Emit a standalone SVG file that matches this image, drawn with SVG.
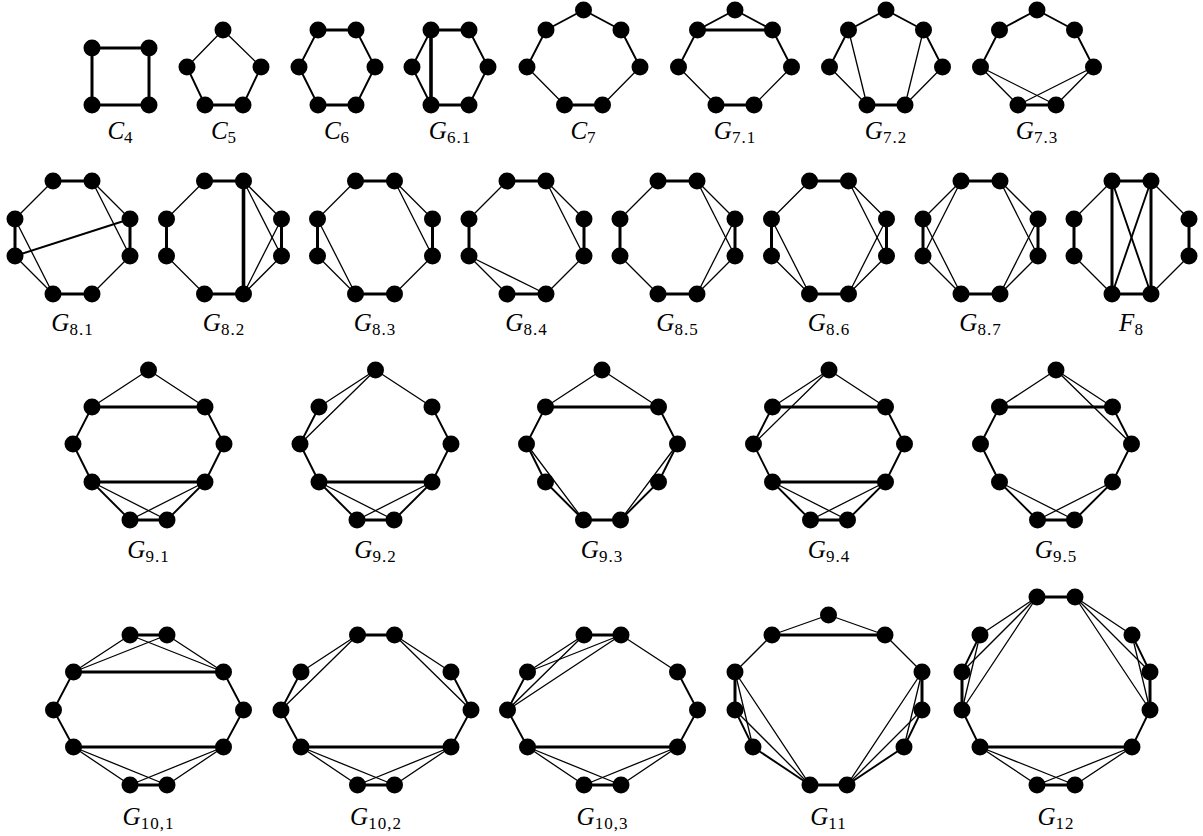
<svg xmlns="http://www.w3.org/2000/svg" width="1203" height="836" viewBox="0 0 1203 836">
<style>
line{stroke:#000;stroke-linecap:round}
.k{stroke-width:3}
.kk{stroke-width:3.6}
.m{stroke-width:1.9}
.t{stroke-width:1.3}
circle{fill:#000}
text{font-family:"Liberation Serif","Times New Roman",serif;font-size:25px;fill:#000;text-anchor:middle}
.v{font-style:italic}
.s{font-size:17px;letter-spacing:1px}
</style>
<rect width="1203" height="836" fill="#fff"/>

<!-- Row 1 -->
<g id="C4">
<g class="edges">
<line class="k" x1="92" y1="48" x2="149" y2="48"/><line class="k" x1="149" y1="48" x2="149" y2="105"/><line class="k" x1="149" y1="105" x2="92" y2="105"/><line class="k" x1="92" y1="105" x2="92" y2="48"/>
</g>
<circle id="C4-1" cx="92" cy="48" r="8.5"/><circle id="C4-2" cx="149" cy="48" r="8.5"/><circle id="C4-3" cx="92" cy="105" r="8.5"/><circle id="C4-4" cx="149" cy="105" r="8.5"/>
<text x="120.5" y="139"><tspan class="v">C</tspan><tspan class="s" dy="4">4</tspan></text>
</g>

<g id="C5">
<g class="edges">
<line class="t" x1="223" y1="30" x2="187" y2="67"/><line class="t" x1="223" y1="30" x2="261" y2="67"/><line class="m" x1="187" y1="67" x2="205" y2="105"/><line class="m" x1="261" y1="67" x2="243" y2="105"/><line class="k" x1="205" y1="105" x2="243" y2="105"/>
</g>
<circle id="C5-1" cx="223" cy="30" r="8.5"/><circle id="C5-2" cx="187" cy="67" r="8.5"/><circle id="C5-3" cx="261" cy="67" r="8.5"/><circle id="C5-4" cx="205" cy="105" r="8.5"/><circle id="C5-5" cx="243" cy="105" r="8.5"/>
<text x="224" y="139"><tspan class="v">C</tspan><tspan class="s" dy="4">5</tspan></text>
</g>

<g id="C6">
<g class="edges">
<line class="k" x1="318" y1="30" x2="356" y2="30"/><line class="m" x1="318" y1="30" x2="299" y2="67"/><line class="m" x1="299" y1="67" x2="318" y2="105"/><line class="k" x1="318" y1="105" x2="356" y2="105"/><line class="m" x1="356" y1="105" x2="375" y2="67"/><line class="m" x1="375" y1="67" x2="356" y2="30"/>
</g>
<circle id="C6-1" cx="318" cy="30" r="8.5"/><circle id="C6-2" cx="356" cy="30" r="8.5"/><circle id="C6-3" cx="299" cy="67" r="8.5"/><circle id="C6-4" cx="375" cy="67" r="8.5"/><circle id="C6-5" cx="318" cy="105" r="8.5"/><circle id="C6-6" cx="356" cy="105" r="8.5"/>
<text x="337" y="139"><tspan class="v">C</tspan><tspan class="s" dy="4">6</tspan></text>
</g>

<g id="G6-1">
<g class="edges">
<line class="k" x1="431" y1="30" x2="469" y2="30"/><line class="m" x1="431" y1="30" x2="412" y2="67"/><line class="m" x1="412" y1="67" x2="431" y2="105"/><line class="k" x1="431" y1="105" x2="469" y2="105"/><line class="m" x1="469" y1="105" x2="488" y2="67"/><line class="m" x1="488" y1="67" x2="469" y2="30"/><line class="kk" x1="431" y1="30" x2="431" y2="105"/>
</g>
<circle id="G61-1" cx="431" cy="30" r="8.5"/><circle id="G61-2" cx="469" cy="30" r="8.5"/><circle id="G61-3" cx="412" cy="67" r="8.5"/><circle id="G61-4" cx="488" cy="67" r="8.5"/><circle id="G61-5" cx="431" cy="105" r="8.5"/><circle id="G61-6" cx="469" cy="105" r="8.5"/>
<text x="450" y="139"><tspan class="v">G</tspan><tspan class="s" dy="4">6.1</tspan></text>
</g>

<g id="C7">
<g class="edges">
<line class="m" x1="583.5" y1="10" x2="546" y2="30"/><line class="m" x1="583.5" y1="10" x2="621" y2="30"/><line class="m" x1="546" y1="30" x2="527" y2="67"/><line class="m" x1="621" y1="30" x2="640" y2="67"/><line class="t" x1="527" y1="67" x2="564.5" y2="105"/><line class="t" x1="640" y1="67" x2="602.5" y2="105"/><line class="k" x1="564.5" y1="105" x2="602.5" y2="105"/>
</g>
<circle id="C7-1" cx="583.5" cy="10" r="8.5"/><circle id="C7-2" cx="546" cy="30" r="8.5"/><circle id="C7-3" cx="621" cy="30" r="8.5"/><circle id="C7-4" cx="527" cy="67" r="8.5"/><circle id="C7-5" cx="640" cy="67" r="8.5"/><circle id="C7-6" cx="564.5" cy="105" r="8.5"/><circle id="C7-7" cx="602.5" cy="105" r="8.5"/>
<text x="583.5" y="139"><tspan class="v">C</tspan><tspan class="s" dy="4">7</tspan></text>
</g>

<g id="G7-1">
<g class="edges">
<line class="m" x1="735" y1="10" x2="697.5" y2="30"/><line class="m" x1="735" y1="10" x2="772.5" y2="30"/><line class="m" x1="697.5" y1="30" x2="678.5" y2="67"/><line class="m" x1="772.5" y1="30" x2="791.5" y2="67"/><line class="t" x1="678.5" y1="67" x2="716" y2="105"/><line class="t" x1="791.5" y1="67" x2="754" y2="105"/><line class="k" x1="716" y1="105" x2="754" y2="105"/><line class="k" x1="697.5" y1="30" x2="772.5" y2="30"/>
</g>
<circle id="G71-1" cx="735" cy="10" r="8.5"/><circle id="G71-2" cx="697.5" cy="30" r="8.5"/><circle id="G71-3" cx="772.5" cy="30" r="8.5"/><circle id="G71-4" cx="678.5" cy="67" r="8.5"/><circle id="G71-5" cx="791.5" cy="67" r="8.5"/><circle id="G71-6" cx="716" cy="105" r="8.5"/><circle id="G71-7" cx="754" cy="105" r="8.5"/>
<text x="735" y="139"><tspan class="v">G</tspan><tspan class="s" dy="4">7.1</tspan></text>
</g>

<g id="G7-2">
<g class="edges">
<line class="m" x1="886" y1="10" x2="848.5" y2="30"/><line class="m" x1="886" y1="10" x2="923.5" y2="30"/><line class="m" x1="848.5" y1="30" x2="829.5" y2="67"/><line class="m" x1="923.5" y1="30" x2="942.5" y2="67"/><line class="t" x1="829.5" y1="67" x2="867" y2="105"/><line class="t" x1="942.5" y1="67" x2="905" y2="105"/><line class="k" x1="867" y1="105" x2="905" y2="105"/><line class="t" x1="848.5" y1="30" x2="867" y2="105"/><line class="t" x1="923.5" y1="30" x2="905" y2="105"/>
</g>
<circle id="G72-1" cx="886" cy="10" r="8.5"/><circle id="G72-2" cx="848.5" cy="30" r="8.5"/><circle id="G72-3" cx="923.5" cy="30" r="8.5"/><circle id="G72-4" cx="829.5" cy="67" r="8.5"/><circle id="G72-5" cx="942.5" cy="67" r="8.5"/><circle id="G72-6" cx="867" cy="105" r="8.5"/><circle id="G72-7" cx="905" cy="105" r="8.5"/>
<text x="886" y="139"><tspan class="v">G</tspan><tspan class="s" dy="4">7.2</tspan></text>
</g>

<g id="G7-3">
<g class="edges">
<line class="m" x1="1037" y1="10" x2="999.5" y2="30"/><line class="m" x1="1037" y1="10" x2="1074.5" y2="30"/><line class="m" x1="999.5" y1="30" x2="980.5" y2="67"/><line class="m" x1="1074.5" y1="30" x2="1093.5" y2="67"/><line class="t" x1="980.5" y1="67" x2="1018" y2="105"/><line class="t" x1="1093.5" y1="67" x2="1056" y2="105"/><line class="k" x1="1018" y1="105" x2="1056" y2="105"/><line class="t" x1="980.5" y1="67" x2="1056" y2="105"/><line class="t" x1="1093.5" y1="67" x2="1018" y2="105"/>
</g>
<circle id="G73-1" cx="1037" cy="10" r="8.5"/><circle id="G73-2" cx="999.5" cy="30" r="8.5"/><circle id="G73-3" cx="1074.5" cy="30" r="8.5"/><circle id="G73-4" cx="980.5" cy="67" r="8.5"/><circle id="G73-5" cx="1093.5" cy="67" r="8.5"/><circle id="G73-6" cx="1018" cy="105" r="8.5"/><circle id="G73-7" cx="1056" cy="105" r="8.5"/>
<text x="1037" y="139"><tspan class="v">G</tspan><tspan class="s" dy="4">7.3</tspan></text>
</g>

<!-- Row 2: octagons a(c-19.5,181) b(c+19.5,181) c(c+57.5,219) d(c+57.5,256) e(c+19.5,294) f(c-19.5,294) g(c-57.5,256) h(c-57.5,219) -->
<g id="G8-1">
<g class="edges">
<line class="k" x1="53" y1="181" x2="92" y2="181"/><line class="t" x1="92" y1="181" x2="130" y2="219"/><line class="k" x1="130" y1="219" x2="130" y2="256"/><line class="t" x1="130" y1="256" x2="92" y2="294"/><line class="k" x1="92" y1="294" x2="53" y2="294"/><line class="t" x1="53" y1="294" x2="15" y2="256"/><line class="k" x1="15" y1="256" x2="15" y2="219"/><line class="t" x1="15" y1="219" x2="53" y2="181"/>
<line class="t" x1="15" y1="219" x2="53" y2="294"/><line class="m" x1="15" y1="256" x2="130" y2="219"/><line class="t" x1="92" y1="181" x2="130" y2="256"/>
</g>
<circle id="G81-a" cx="53" cy="181" r="8.5"/><circle id="G81-b" cx="92" cy="181" r="8.5"/><circle id="G81-c" cx="130" cy="219" r="8.5"/><circle id="G81-d" cx="130" cy="256" r="8.5"/><circle id="G81-e" cx="92" cy="294" r="8.5"/><circle id="G81-f" cx="53" cy="294" r="8.5"/><circle id="G81-g" cx="15" cy="256" r="8.5"/><circle id="G81-h" cx="15" cy="219" r="8.5"/>
<text x="72.5" y="331"><tspan class="v">G</tspan><tspan class="s" dy="4">8.1</tspan></text>
</g>

<g id="G8-2">
<g class="edges">
<line class="k" x1="204.5" y1="181" x2="243.5" y2="181"/><line class="t" x1="243.5" y1="181" x2="281.5" y2="219"/><line class="k" x1="281.5" y1="219" x2="281.5" y2="256"/><line class="t" x1="281.5" y1="256" x2="243.5" y2="294"/><line class="k" x1="243.5" y1="294" x2="204.5" y2="294"/><line class="t" x1="204.5" y1="294" x2="166.5" y2="256"/><line class="k" x1="166.5" y1="256" x2="166.5" y2="219"/><line class="t" x1="166.5" y1="219" x2="204.5" y2="181"/>
<line class="kk" x1="243.5" y1="181" x2="243.5" y2="294"/><line class="t" x1="243.5" y1="181" x2="281.5" y2="256"/><line class="t" x1="243.5" y1="294" x2="281.5" y2="219"/>
</g>
<circle id="G82-a" cx="204.5" cy="181" r="8.5"/><circle id="G82-b" cx="243.5" cy="181" r="8.5"/><circle id="G82-c" cx="281.5" cy="219" r="8.5"/><circle id="G82-d" cx="281.5" cy="256" r="8.5"/><circle id="G82-e" cx="243.5" cy="294" r="8.5"/><circle id="G82-f" cx="204.5" cy="294" r="8.5"/><circle id="G82-g" cx="166.5" cy="256" r="8.5"/><circle id="G82-h" cx="166.5" cy="219" r="8.5"/>
<text x="224" y="331"><tspan class="v">G</tspan><tspan class="s" dy="4">8.2</tspan></text>
</g>

<g id="G8-3">
<g class="edges">
<line class="k" x1="355.5" y1="181" x2="394.5" y2="181"/><line class="t" x1="394.5" y1="181" x2="432.5" y2="219"/><line class="k" x1="432.5" y1="219" x2="432.5" y2="256"/><line class="t" x1="432.5" y1="256" x2="394.5" y2="294"/><line class="k" x1="394.5" y1="294" x2="355.5" y2="294"/><line class="t" x1="355.5" y1="294" x2="317.5" y2="256"/><line class="k" x1="317.5" y1="256" x2="317.5" y2="219"/><line class="t" x1="317.5" y1="219" x2="355.5" y2="181"/>
<line class="t" x1="317.5" y1="219" x2="355.5" y2="294"/><line class="t" x1="394.5" y1="181" x2="432.5" y2="256"/>
</g>
<circle id="G83-a" cx="355.5" cy="181" r="8.5"/><circle id="G83-b" cx="394.5" cy="181" r="8.5"/><circle id="G83-c" cx="432.5" cy="219" r="8.5"/><circle id="G83-d" cx="432.5" cy="256" r="8.5"/><circle id="G83-e" cx="394.5" cy="294" r="8.5"/><circle id="G83-f" cx="355.5" cy="294" r="8.5"/><circle id="G83-g" cx="317.5" cy="256" r="8.5"/><circle id="G83-h" cx="317.5" cy="219" r="8.5"/>
<text x="375" y="331"><tspan class="v">G</tspan><tspan class="s" dy="4">8.3</tspan></text>
</g>

<g id="G8-4">
<g class="edges">
<line class="k" x1="507" y1="181" x2="546" y2="181"/><line class="t" x1="546" y1="181" x2="584" y2="219"/><line class="k" x1="584" y1="219" x2="584" y2="256"/><line class="t" x1="584" y1="256" x2="546" y2="294"/><line class="k" x1="546" y1="294" x2="507" y2="294"/><line class="t" x1="507" y1="294" x2="469" y2="256"/><line class="k" x1="469" y1="256" x2="469" y2="219"/><line class="t" x1="469" y1="219" x2="507" y2="181"/>
<line class="t" x1="546" y1="181" x2="584" y2="256"/><line class="t" x1="469" y1="256" x2="546" y2="294"/>
</g>
<circle id="G84-a" cx="507" cy="181" r="8.5"/><circle id="G84-b" cx="546" cy="181" r="8.5"/><circle id="G84-c" cx="584" cy="219" r="8.5"/><circle id="G84-d" cx="584" cy="256" r="8.5"/><circle id="G84-e" cx="546" cy="294" r="8.5"/><circle id="G84-f" cx="507" cy="294" r="8.5"/><circle id="G84-g" cx="469" cy="256" r="8.5"/><circle id="G84-h" cx="469" cy="219" r="8.5"/>
<text x="526.5" y="331"><tspan class="v">G</tspan><tspan class="s" dy="4">8.4</tspan></text>
</g>

<g id="G8-5">
<g class="edges">
<line class="k" x1="658" y1="181" x2="697" y2="181"/><line class="t" x1="697" y1="181" x2="735" y2="219"/><line class="k" x1="735" y1="219" x2="735" y2="256"/><line class="t" x1="735" y1="256" x2="697" y2="294"/><line class="k" x1="697" y1="294" x2="658" y2="294"/><line class="t" x1="658" y1="294" x2="620" y2="256"/><line class="k" x1="620" y1="256" x2="620" y2="219"/><line class="t" x1="620" y1="219" x2="658" y2="181"/>
<line class="t" x1="697" y1="181" x2="735" y2="256"/><line class="t" x1="697" y1="294" x2="735" y2="219"/>
</g>
<circle id="G85-a" cx="658" cy="181" r="8.5"/><circle id="G85-b" cx="697" cy="181" r="8.5"/><circle id="G85-c" cx="735" cy="219" r="8.5"/><circle id="G85-d" cx="735" cy="256" r="8.5"/><circle id="G85-e" cx="697" cy="294" r="8.5"/><circle id="G85-f" cx="658" cy="294" r="8.5"/><circle id="G85-g" cx="620" cy="256" r="8.5"/><circle id="G85-h" cx="620" cy="219" r="8.5"/>
<text x="677.5" y="331"><tspan class="v">G</tspan><tspan class="s" dy="4">8.5</tspan></text>
</g>

<g id="G8-6">
<g class="edges">
<line class="k" x1="809.5" y1="181" x2="848.5" y2="181"/><line class="t" x1="848.5" y1="181" x2="886.5" y2="219"/><line class="k" x1="886.5" y1="219" x2="886.5" y2="256"/><line class="t" x1="886.5" y1="256" x2="848.5" y2="294"/><line class="k" x1="848.5" y1="294" x2="809.5" y2="294"/><line class="t" x1="809.5" y1="294" x2="771.5" y2="256"/><line class="k" x1="771.5" y1="256" x2="771.5" y2="219"/><line class="t" x1="771.5" y1="219" x2="809.5" y2="181"/>
<line class="t" x1="771.5" y1="219" x2="809.5" y2="294"/><line class="t" x1="848.5" y1="181" x2="886.5" y2="256"/><line class="t" x1="848.5" y1="294" x2="886.5" y2="219"/>
</g>
<circle id="G86-a" cx="809.5" cy="181" r="8.5"/><circle id="G86-b" cx="848.5" cy="181" r="8.5"/><circle id="G86-c" cx="886.5" cy="219" r="8.5"/><circle id="G86-d" cx="886.5" cy="256" r="8.5"/><circle id="G86-e" cx="848.5" cy="294" r="8.5"/><circle id="G86-f" cx="809.5" cy="294" r="8.5"/><circle id="G86-g" cx="771.5" cy="256" r="8.5"/><circle id="G86-h" cx="771.5" cy="219" r="8.5"/>
<text x="829" y="331"><tspan class="v">G</tspan><tspan class="s" dy="4">8.6</tspan></text>
</g>

<g id="G8-7">
<g class="edges">
<line class="k" x1="961" y1="181" x2="1000" y2="181"/><line class="t" x1="1000" y1="181" x2="1038" y2="219"/><line class="k" x1="1038" y1="219" x2="1038" y2="256"/><line class="t" x1="1038" y1="256" x2="1000" y2="294"/><line class="k" x1="1000" y1="294" x2="961" y2="294"/><line class="t" x1="961" y1="294" x2="923" y2="256"/><line class="k" x1="923" y1="256" x2="923" y2="219"/><line class="t" x1="923" y1="219" x2="961" y2="181"/>
<line class="t" x1="961" y1="181" x2="923" y2="256"/><line class="t" x1="923" y1="219" x2="961" y2="294"/><line class="t" x1="1000" y1="181" x2="1038" y2="256"/><line class="t" x1="1000" y1="294" x2="1038" y2="219"/>
</g>
<circle id="G87-a" cx="961" cy="181" r="8.5"/><circle id="G87-b" cx="1000" cy="181" r="8.5"/><circle id="G87-c" cx="1038" cy="219" r="8.5"/><circle id="G87-d" cx="1038" cy="256" r="8.5"/><circle id="G87-e" cx="1000" cy="294" r="8.5"/><circle id="G87-f" cx="961" cy="294" r="8.5"/><circle id="G87-g" cx="923" cy="256" r="8.5"/><circle id="G87-h" cx="923" cy="219" r="8.5"/>
<text x="980.5" y="331"><tspan class="v">G</tspan><tspan class="s" dy="4">8.7</tspan></text>
</g>

<g id="F8">
<g class="edges">
<line class="k" x1="1112" y1="181" x2="1151" y2="181"/><line class="t" x1="1151" y1="181" x2="1189" y2="219"/><line class="k" x1="1189" y1="219" x2="1189" y2="256"/><line class="t" x1="1189" y1="256" x2="1151" y2="294"/><line class="k" x1="1151" y1="294" x2="1112" y2="294"/><line class="t" x1="1112" y1="294" x2="1074" y2="256"/><line class="k" x1="1074" y1="256" x2="1074" y2="219"/><line class="t" x1="1074" y1="219" x2="1112" y2="181"/>
<line class="k" x1="1112" y1="181" x2="1112" y2="294"/><line class="k" x1="1151" y1="181" x2="1151" y2="294"/><line class="m" x1="1112" y1="181" x2="1151" y2="294"/><line class="m" x1="1151" y1="181" x2="1112" y2="294"/>
</g>
<circle id="F8-a" cx="1112" cy="181" r="8.5"/><circle id="F8-b" cx="1151" cy="181" r="8.5"/><circle id="F8-c" cx="1189" cy="219" r="8.5"/><circle id="F8-d" cx="1189" cy="256" r="8.5"/><circle id="F8-e" cx="1151" cy="294" r="8.5"/><circle id="F8-f" cx="1112" cy="294" r="8.5"/><circle id="F8-g" cx="1074" cy="256" r="8.5"/><circle id="F8-h" cx="1074" cy="219" r="8.5"/>
<text x="1131.5" y="331"><tspan class="v">F</tspan><tspan class="s" dy="4">8</tspan></text>
</g>

<!-- Row 3 -->
<g id="G9-1">
<g class="edges">
<line class="t" x1="148.5" y1="370" x2="92" y2="407"/><line class="t" x1="148.5" y1="370" x2="205" y2="407"/><line class="m" x1="92" y1="407" x2="73" y2="444"/><line class="m" x1="73" y1="444" x2="92" y2="482"/><line class="m" x1="205" y1="407" x2="224" y2="444"/><line class="m" x1="224" y1="444" x2="205" y2="482"/><line class="m" x1="92" y1="482" x2="130" y2="520"/><line class="m" x1="205" y1="482" x2="167" y2="520"/><line class="k" x1="130" y1="520" x2="167" y2="520"/>
<line class="k" x1="92" y1="407" x2="205" y2="407"/><line class="k" x1="92" y1="482" x2="205" y2="482"/><line class="t" x1="92" y1="482" x2="167" y2="520"/><line class="t" x1="205" y1="482" x2="130" y2="520"/>
</g>
<circle id="G91-1" cx="148.5" cy="370" r="8.5"/><circle id="G91-2" cx="92" cy="407" r="8.5"/><circle id="G91-3" cx="205" cy="407" r="8.5"/><circle id="G91-4" cx="73" cy="444" r="8.5"/><circle id="G91-5" cx="224" cy="444" r="8.5"/><circle id="G91-6" cx="92" cy="482" r="8.5"/><circle id="G91-7" cx="205" cy="482" r="8.5"/><circle id="G91-8" cx="130" cy="520" r="8.5"/><circle id="G91-9" cx="167" cy="520" r="8.5"/>
<text x="148.5" y="558"><tspan class="v">G</tspan><tspan class="s" dy="4">9.1</tspan></text>
</g>

<g id="G9-2">
<g class="edges">
<line class="t" x1="375.5" y1="370" x2="319" y2="407"/><line class="t" x1="375.5" y1="370" x2="432" y2="407"/><line class="m" x1="319" y1="407" x2="300" y2="444"/><line class="m" x1="300" y1="444" x2="319" y2="482"/><line class="m" x1="432" y1="407" x2="451" y2="444"/><line class="m" x1="451" y1="444" x2="432" y2="482"/><line class="m" x1="319" y1="482" x2="357" y2="520"/><line class="m" x1="432" y1="482" x2="394" y2="520"/><line class="k" x1="357" y1="520" x2="394" y2="520"/>
<line class="t" x1="375.5" y1="370" x2="300" y2="444"/><line class="k" x1="319" y1="482" x2="432" y2="482"/><line class="t" x1="319" y1="482" x2="394" y2="520"/><line class="t" x1="432" y1="482" x2="357" y2="520"/>
</g>
<circle id="G92-1" cx="375.5" cy="370" r="8.5"/><circle id="G92-2" cx="319" cy="407" r="8.5"/><circle id="G92-3" cx="432" cy="407" r="8.5"/><circle id="G92-4" cx="300" cy="444" r="8.5"/><circle id="G92-5" cx="451" cy="444" r="8.5"/><circle id="G92-6" cx="319" cy="482" r="8.5"/><circle id="G92-7" cx="432" cy="482" r="8.5"/><circle id="G92-8" cx="357" cy="520" r="8.5"/><circle id="G92-9" cx="394" cy="520" r="8.5"/>
<text x="375.5" y="558"><tspan class="v">G</tspan><tspan class="s" dy="4">9.2</tspan></text>
</g>

<g id="G9-3">
<g class="edges">
<line class="t" x1="602" y1="370" x2="545.5" y2="407"/><line class="t" x1="602" y1="370" x2="658.5" y2="407"/><line class="m" x1="545.5" y1="407" x2="526.5" y2="444"/><line class="m" x1="526.5" y1="444" x2="545.5" y2="482"/><line class="m" x1="658.5" y1="407" x2="677.5" y2="444"/><line class="m" x1="677.5" y1="444" x2="658.5" y2="482"/><line class="m" x1="545.5" y1="482" x2="583.5" y2="520"/><line class="m" x1="658.5" y1="482" x2="620.5" y2="520"/><line class="k" x1="583.5" y1="520" x2="620.5" y2="520"/>
<line class="k" x1="545.5" y1="407" x2="658.5" y2="407"/><line class="t" x1="526.5" y1="444" x2="583.5" y2="520"/><line class="t" x1="677.5" y1="444" x2="620.5" y2="520"/>
</g>
<circle id="G93-1" cx="602" cy="370" r="8.5"/><circle id="G93-2" cx="545.5" cy="407" r="8.5"/><circle id="G93-3" cx="658.5" cy="407" r="8.5"/><circle id="G93-4" cx="526.5" cy="444" r="8.5"/><circle id="G93-5" cx="677.5" cy="444" r="8.5"/><circle id="G93-6" cx="545.5" cy="482" r="8.5"/><circle id="G93-7" cx="658.5" cy="482" r="8.5"/><circle id="G93-8" cx="583.5" cy="520" r="8.5"/><circle id="G93-9" cx="620.5" cy="520" r="8.5"/>
<text x="602" y="558"><tspan class="v">G</tspan><tspan class="s" dy="4">9.3</tspan></text>
</g>

<g id="G9-4">
<g class="edges">
<line class="t" x1="829" y1="370" x2="772.5" y2="407"/><line class="t" x1="829" y1="370" x2="885.5" y2="407"/><line class="m" x1="772.5" y1="407" x2="753.5" y2="444"/><line class="m" x1="753.5" y1="444" x2="772.5" y2="482"/><line class="m" x1="885.5" y1="407" x2="904.5" y2="444"/><line class="m" x1="904.5" y1="444" x2="885.5" y2="482"/><line class="m" x1="772.5" y1="482" x2="810.5" y2="520"/><line class="m" x1="885.5" y1="482" x2="847.5" y2="520"/><line class="k" x1="810.5" y1="520" x2="847.5" y2="520"/>
<line class="t" x1="829" y1="370" x2="753.5" y2="444"/><line class="k" x1="772.5" y1="407" x2="885.5" y2="407"/><line class="k" x1="772.5" y1="482" x2="885.5" y2="482"/><line class="t" x1="772.5" y1="482" x2="847.5" y2="520"/><line class="t" x1="885.5" y1="482" x2="810.5" y2="520"/>
</g>
<circle id="G94-1" cx="829" cy="370" r="8.5"/><circle id="G94-2" cx="772.5" cy="407" r="8.5"/><circle id="G94-3" cx="885.5" cy="407" r="8.5"/><circle id="G94-4" cx="753.5" cy="444" r="8.5"/><circle id="G94-5" cx="904.5" cy="444" r="8.5"/><circle id="G94-6" cx="772.5" cy="482" r="8.5"/><circle id="G94-7" cx="885.5" cy="482" r="8.5"/><circle id="G94-8" cx="810.5" cy="520" r="8.5"/><circle id="G94-9" cx="847.5" cy="520" r="8.5"/>
<text x="829" y="558"><tspan class="v">G</tspan><tspan class="s" dy="4">9.4</tspan></text>
</g>

<g id="G9-5">
<g class="edges">
<line class="t" x1="1056" y1="370" x2="999.5" y2="407"/><line class="t" x1="1056" y1="370" x2="1112.5" y2="407"/><line class="m" x1="999.5" y1="407" x2="980.5" y2="444"/><line class="m" x1="980.5" y1="444" x2="999.5" y2="482"/><line class="m" x1="1112.5" y1="407" x2="1131.5" y2="444"/><line class="m" x1="1131.5" y1="444" x2="1112.5" y2="482"/><line class="m" x1="999.5" y1="482" x2="1037.5" y2="520"/><line class="m" x1="1112.5" y1="482" x2="1074.5" y2="520"/><line class="k" x1="1037.5" y1="520" x2="1074.5" y2="520"/>
<line class="k" x1="999.5" y1="407" x2="1112.5" y2="407"/><line class="t" x1="1056" y1="370" x2="1131.5" y2="444"/><line class="t" x1="999.5" y1="482" x2="1074.5" y2="520"/><line class="t" x1="1112.5" y1="482" x2="1037.5" y2="520"/>
</g>
<circle id="G95-1" cx="1056" cy="370" r="8.5"/><circle id="G95-2" cx="999.5" cy="407" r="8.5"/><circle id="G95-3" cx="1112.5" cy="407" r="8.5"/><circle id="G95-4" cx="980.5" cy="444" r="8.5"/><circle id="G95-5" cx="1131.5" cy="444" r="8.5"/><circle id="G95-6" cx="999.5" cy="482" r="8.5"/><circle id="G95-7" cx="1112.5" cy="482" r="8.5"/><circle id="G95-8" cx="1037.5" cy="520" r="8.5"/><circle id="G95-9" cx="1074.5" cy="520" r="8.5"/>
<text x="1056" y="558"><tspan class="v">G</tspan><tspan class="s" dy="4">9.5</tspan></text>
</g>

<!-- Row 4 -->
<g id="G10-1">
<g class="edges">
<line class="k" x1="130" y1="635" x2="167" y2="635"/><line class="t" x1="130" y1="635" x2="73.5" y2="672"/><line class="t" x1="167" y1="635" x2="223.5" y2="672"/><line class="m" x1="73.5" y1="672" x2="53.5" y2="710"/><line class="m" x1="53.5" y1="710" x2="73.5" y2="747"/><line class="m" x1="223.5" y1="672" x2="243.5" y2="710"/><line class="m" x1="243.5" y1="710" x2="223.5" y2="747"/><line class="t" x1="73.5" y1="747" x2="130" y2="785"/><line class="t" x1="223.5" y1="747" x2="167" y2="785"/><line class="k" x1="130" y1="785" x2="167" y2="785"/>
<line class="k" x1="73.5" y1="672" x2="223.5" y2="672"/><line class="k" x1="73.5" y1="747" x2="223.5" y2="747"/><line class="t" x1="73.5" y1="672" x2="167" y2="635"/><line class="t" x1="223.5" y1="672" x2="130" y2="635"/><line class="t" x1="73.5" y1="747" x2="167" y2="785"/><line class="t" x1="223.5" y1="747" x2="130" y2="785"/>
</g>
<circle id="G101-1" cx="130" cy="635" r="8.5"/><circle id="G101-2" cx="167" cy="635" r="8.5"/><circle id="G101-3" cx="73.5" cy="672" r="8.5"/><circle id="G101-4" cx="223.5" cy="672" r="8.5"/><circle id="G101-5" cx="53.5" cy="710" r="8.5"/><circle id="G101-6" cx="243.5" cy="710" r="8.5"/><circle id="G101-7" cx="73.5" cy="747" r="8.5"/><circle id="G101-8" cx="223.5" cy="747" r="8.5"/><circle id="G101-9" cx="130" cy="785" r="8.5"/><circle id="G101-10" cx="167" cy="785" r="8.5"/>
<text x="148.5" y="825"><tspan class="v">G</tspan><tspan class="s" dy="4">10,1</tspan></text>
</g>

<g id="G10-2">
<g class="edges">
<line class="k" x1="357.5" y1="635" x2="394.5" y2="635"/><line class="t" x1="357.5" y1="635" x2="301" y2="672"/><line class="t" x1="394.5" y1="635" x2="451" y2="672"/><line class="m" x1="301" y1="672" x2="281" y2="710"/><line class="m" x1="281" y1="710" x2="301" y2="747"/><line class="m" x1="451" y1="672" x2="471" y2="710"/><line class="m" x1="471" y1="710" x2="451" y2="747"/><line class="t" x1="301" y1="747" x2="357.5" y2="785"/><line class="t" x1="451" y1="747" x2="394.5" y2="785"/><line class="k" x1="357.5" y1="785" x2="394.5" y2="785"/>
<line class="t" x1="357.5" y1="635" x2="281" y2="710"/><line class="t" x1="394.5" y1="635" x2="471" y2="710"/><line class="k" x1="301" y1="747" x2="451" y2="747"/><line class="t" x1="301" y1="747" x2="394.5" y2="785"/><line class="t" x1="451" y1="747" x2="357.5" y2="785"/>
</g>
<circle id="G102-1" cx="357.5" cy="635" r="8.5"/><circle id="G102-2" cx="394.5" cy="635" r="8.5"/><circle id="G102-3" cx="301" cy="672" r="8.5"/><circle id="G102-4" cx="451" cy="672" r="8.5"/><circle id="G102-5" cx="281" cy="710" r="8.5"/><circle id="G102-6" cx="471" cy="710" r="8.5"/><circle id="G102-7" cx="301" cy="747" r="8.5"/><circle id="G102-8" cx="451" cy="747" r="8.5"/><circle id="G102-9" cx="357.5" cy="785" r="8.5"/><circle id="G102-10" cx="394.5" cy="785" r="8.5"/>
<text x="376" y="825"><tspan class="v">G</tspan><tspan class="s" dy="4">10,2</tspan></text>
</g>

<g id="G10-3">
<g class="edges">
<line class="k" x1="584" y1="635" x2="621" y2="635"/><line class="t" x1="584" y1="635" x2="527.5" y2="672"/><line class="t" x1="621" y1="635" x2="677.5" y2="672"/><line class="m" x1="527.5" y1="672" x2="507.5" y2="710"/><line class="m" x1="507.5" y1="710" x2="527.5" y2="747"/><line class="m" x1="677.5" y1="672" x2="697.5" y2="710"/><line class="m" x1="697.5" y1="710" x2="677.5" y2="747"/><line class="t" x1="527.5" y1="747" x2="584" y2="785"/><line class="t" x1="677.5" y1="747" x2="621" y2="785"/><line class="k" x1="584" y1="785" x2="621" y2="785"/>
<line class="t" x1="584" y1="635" x2="507.5" y2="710"/><line class="t" x1="621" y1="635" x2="527.5" y2="672"/><line class="t" x1="621" y1="635" x2="507.5" y2="710"/><line class="k" x1="527.5" y1="747" x2="677.5" y2="747"/><line class="t" x1="527.5" y1="747" x2="621" y2="785"/><line class="t" x1="677.5" y1="747" x2="584" y2="785"/>
</g>
<circle id="G103-1" cx="584" cy="635" r="8.5"/><circle id="G103-2" cx="621" cy="635" r="8.5"/><circle id="G103-3" cx="527.5" cy="672" r="8.5"/><circle id="G103-4" cx="677.5" cy="672" r="8.5"/><circle id="G103-5" cx="507.5" cy="710" r="8.5"/><circle id="G103-6" cx="697.5" cy="710" r="8.5"/><circle id="G103-7" cx="527.5" cy="747" r="8.5"/><circle id="G103-8" cx="677.5" cy="747" r="8.5"/><circle id="G103-9" cx="584" cy="785" r="8.5"/><circle id="G103-10" cx="621" cy="785" r="8.5"/>
<text x="602.5" y="825"><tspan class="v">G</tspan><tspan class="s" dy="4">10,3</tspan></text>
</g>

<g id="G11">
<g class="edges">
<line class="t" x1="828.5" y1="615" x2="772" y2="635"/><line class="t" x1="828.5" y1="615" x2="885" y2="635"/><line class="k" x1="772" y1="635" x2="885" y2="635"/><line class="t" x1="772" y1="635" x2="735" y2="672"/><line class="t" x1="885" y1="635" x2="922" y2="672"/><line class="k" x1="735" y1="672" x2="735" y2="710"/><line class="k" x1="922" y1="672" x2="922" y2="710"/><line class="m" x1="735" y1="710" x2="753" y2="747"/><line class="m" x1="922" y1="710" x2="904" y2="747"/><line class="m" x1="753" y1="747" x2="810" y2="785"/><line class="m" x1="904" y1="747" x2="847" y2="785"/><line class="k" x1="810" y1="785" x2="847" y2="785"/>
<line class="t" x1="735" y1="672" x2="753" y2="747"/><line class="t" x1="735" y1="672" x2="810" y2="785"/><line class="t" x1="735" y1="710" x2="810" y2="785"/><line class="t" x1="922" y1="672" x2="904" y2="747"/><line class="t" x1="922" y1="672" x2="847" y2="785"/><line class="t" x1="922" y1="710" x2="847" y2="785"/>
</g>
<circle id="G11-1" cx="828.5" cy="615" r="8.5"/><circle id="G11-2" cx="772" cy="635" r="8.5"/><circle id="G11-3" cx="885" cy="635" r="8.5"/><circle id="G11-4" cx="735" cy="672" r="8.5"/><circle id="G11-5" cx="922" cy="672" r="8.5"/><circle id="G11-6" cx="735" cy="710" r="8.5"/><circle id="G11-7" cx="922" cy="710" r="8.5"/><circle id="G11-8" cx="753" cy="747" r="8.5"/><circle id="G11-9" cx="904" cy="747" r="8.5"/><circle id="G11-10" cx="810" cy="785" r="8.5"/><circle id="G11-11" cx="847" cy="785" r="8.5"/>
<text x="828.5" y="825"><tspan class="v">G</tspan><tspan class="s" dy="4">11</tspan></text>
</g>

<g id="G12">
<g class="edges">
<line class="k" x1="1037" y1="597" x2="1075" y2="597"/><line class="t" x1="1037" y1="597" x2="980" y2="635"/><line class="m" x1="980" y1="635" x2="962" y2="672"/><line class="k" x1="962" y1="672" x2="962" y2="710"/><line class="m" x1="962" y1="710" x2="980" y2="747"/><line class="t" x1="980" y1="747" x2="1037" y2="785"/><line class="k" x1="1037" y1="785" x2="1075" y2="785"/><line class="t" x1="1075" y1="785" x2="1132" y2="747"/><line class="m" x1="1132" y1="747" x2="1150" y2="710"/><line class="k" x1="1150" y1="710" x2="1150" y2="672"/><line class="m" x1="1150" y1="672" x2="1132" y2="635"/><line class="t" x1="1132" y1="635" x2="1075" y2="597"/>
<line class="k" x1="980" y1="747" x2="1132" y2="747"/><line class="t" x1="1037" y1="597" x2="962" y2="672"/><line class="t" x1="1037" y1="597" x2="962" y2="710"/><line class="t" x1="980" y1="635" x2="962" y2="710"/><line class="t" x1="1075" y1="597" x2="1150" y2="672"/><line class="t" x1="1075" y1="597" x2="1150" y2="710"/><line class="t" x1="1132" y1="635" x2="1150" y2="710"/><line class="t" x1="980" y1="747" x2="1075" y2="785"/><line class="t" x1="1132" y1="747" x2="1037" y2="785"/>
</g>
<circle id="G12-1" cx="1037" cy="597" r="8.5"/><circle id="G12-2" cx="1075" cy="597" r="8.5"/><circle id="G12-3" cx="980" cy="635" r="8.5"/><circle id="G12-4" cx="1132" cy="635" r="8.5"/><circle id="G12-5" cx="962" cy="672" r="8.5"/><circle id="G12-6" cx="1150" cy="672" r="8.5"/><circle id="G12-7" cx="962" cy="710" r="8.5"/><circle id="G12-8" cx="1150" cy="710" r="8.5"/><circle id="G12-9" cx="980" cy="747" r="8.5"/><circle id="G12-10" cx="1132" cy="747" r="8.5"/><circle id="G12-11" cx="1037" cy="785" r="8.5"/><circle id="G12-12" cx="1075" cy="785" r="8.5"/>
<text x="1056" y="825"><tspan class="v">G</tspan><tspan class="s" dy="4">12</tspan></text>
</g>
</svg>
